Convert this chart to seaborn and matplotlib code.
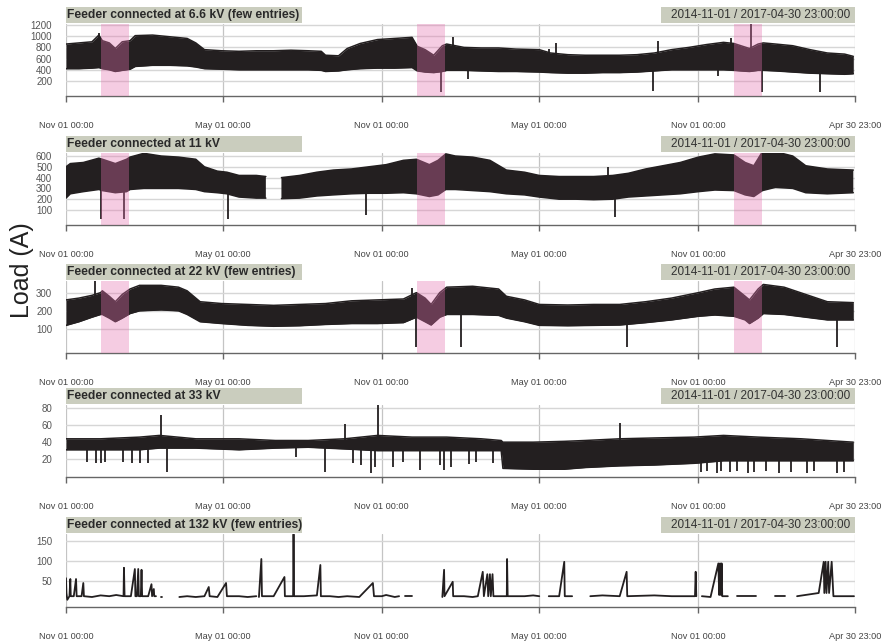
import numpy as np
import pandas as pd
import matplotlib
matplotlib.use("Agg")
import matplotlib.pyplot as plt
from matplotlib.patches import Rectangle
import seaborn as sns

# ---------------- data (days since 2014-11-01, values in A) ----------------
START = "2014-11-01"
END = "2017-04-30 23:00"

titles = ["Feeder connected at 6.6 kV (few entries)",
          "Feeder connected at 11 kV",
          "Feeder connected at 22 kV (few entries)",
          "Feeder connected at 33 kV",
          "Feeder connected at 132 kV (few entries)"]
range_label = "2014-11-01 / 2017-04-30 23:00:00"

xtick_dates = ["2014-11-01", "2015-05-01", "2015-11-01", "2016-05-01", "2016-11-01", "2017-04-30 23:00"]
xtick_labels = ["Nov 01 00:00", "May 01 00:00", "Nov 01 00:00", "May 01 00:00", "Nov 01 00:00", "Apr 30 23:00"]

holiday_start = ["2014-12-12", "2015-12-12", "2016-12-12"]
holiday_end = ["2015-01-13", "2016-01-13", "2017-01-14"]

# 6.6 kV envelope
kv66_days = [0, 15, 30, 38, 42, 50, 57, 65, 74, 80, 100, 120, 140, 150, 160, 180, 200, 220, 240, 260,
             280, 295, 300, 315, 325, 340, 360, 380, 400, 406, 415, 425, 435, 440, 460, 480, 500, 520,
             547, 560, 580, 600, 620, 640, 660, 680, 700, 720, 740, 760, 772, 780, 790, 800, 806, 820,
             840, 860, 880, 900, 910]
kv66_high = [860, 880, 900, 1020, 920, 880, 780, 900, 920, 1010, 1020, 990, 960, 880, 760, 740, 730, 740,
             740, 750, 740, 730, 660, 650, 780, 870, 940, 960, 980, 820, 760, 660, 830, 860, 800, 790, 790,
             770, 760, 700, 670, 660, 660, 660, 670, 700, 760, 800, 850, 890, 870, 830, 780, 860, 880, 860,
             830, 760, 700, 680, 640]
kv66_low = [420, 420, 430, 440, 420, 400, 370, 390, 410, 460, 480, 480, 470, 450, 420, 410, 400, 400, 400,
            400, 400, 390, 370, 380, 400, 420, 430, 430, 440, 380, 360, 350, 370, 390, 390, 380, 370, 370,
            360, 350, 340, 340, 350, 350, 360, 380, 400, 400, 400, 400, 390, 380, 370, 390, 390, 380, 360,
            340, 330, 320, 330]
kv66_spike_days = [38, 434, 447, 465, 558, 566, 679, 684, 754, 769, 792, 805, 871]
kv66_spike_vals = [1050, 10, 990, 230, 780, 870, 20, 920, 290, 960, 1218, 0, 10]

# 11 kV envelope (NaN = missing data)
kv11_days = [0, 5, 20, 38, 42, 57, 70, 74, 90, 110, 130, 150, 160, 175, 186, 200, 220, 231, 240, 249,
             270, 290, 309, 330, 350, 370, 390, 405, 420, 430, 439, 450, 470, 490, 509, 530, 547, 570,
             590, 610, 632, 650, 670, 690, 710, 731, 750, 772, 785, 795, 805, 820, 840, 855, 880, 910]
kv11_high = [500, 530, 540, 580, 570, 530, 570, 590, 625, 600, 590, 570, 500, 460, 450, 420, 420, 410,
             np.nan, 400, 420, 450, 470, 480, 500, 520, 560, 570, 520, 560, 620, 600, 590, 560, 470, 450,
             420, 410, 410, 410, 420, 440, 480, 510, 540, 590, 620, 610, 540, 510, 640, 640, 600, 510,
             480, 470]
kv11_low = [210, 250, 270, 290, 280, 260, 270, 290, 300, 300, 300, 290, 270, 260, 250, 220, 210, 210,
            np.nan, 205, 210, 230, 240, 250, 255, 255, 260, 250, 225, 240, 290, 290, 280, 270, 250, 240,
            220, 200, 200, 195, 200, 220, 230, 240, 250, 270, 285, 280, 240, 225, 280, 310, 300, 260,
            250, 260]
kv11_spike_days = [41, 67, 187, 347, 626, 634]
kv11_spike_vals = [14, 14, 14, 54, 500, 32]

# 22 kV envelope
kv22_days = [0, 15, 30, 40, 42, 50, 57, 65, 74, 85, 110, 130, 140, 155, 180, 210, 240, 270, 300, 330,
             360, 390, 405, 415, 422, 432, 440, 470, 500, 509, 530, 547, 580, 610, 640, 670, 700, 731,
             750, 772, 785, 790, 800, 806, 830, 855, 880, 910]
kv22_high = [260, 270, 285, 300, 310, 280, 250, 290, 320, 340, 340, 330, 310, 250, 240, 235, 230, 235,
             240, 255, 260, 265, 300, 270, 235, 300, 330, 335, 320, 280, 260, 235, 232, 235, 235, 250,
             270, 300, 320, 330, 280, 260, 320, 345, 330, 290, 250, 245]
kv22_low = [120, 140, 165, 180, 180, 160, 140, 160, 185, 200, 205, 200, 180, 140, 130, 120, 115, 118,
            125, 130, 130, 135, 165, 140, 122, 165, 180, 180, 175, 160, 140, 120, 118, 120, 122, 135,
            150, 170, 177, 170, 150, 130, 160, 185, 180, 165, 150, 150]
kv22_spike_days = [33, 400, 405, 457, 649, 891]
kv22_spike_vals = [375, 324, 0, 3, 3, 3]

# 33 kV envelope
kv33_days = [0, 40, 85, 108, 150, 200, 242, 280, 322, 360, 400, 440, 480, 503, 505, 540, 576, 600, 640,
             680, 726, 760, 800, 850, 910]
kv33_high = [44, 44, 46, 48, 44, 44, 42, 42, 44, 48, 46, 46, 44, 42, 40, 40, 41, 42, 44, 45, 46, 48, 46,
             44, 40]
kv33_low = [31, 31, 31, 33, 33, 31, 33, 34, 32, 30, 30, 30, 30, 30, 9, 8, 8, 10, 12, 13, 15, 18, 18, 18,
            18]
kv33_spike_days = [24, 35, 41, 45, 66, 76, 85, 95, 117, 266, 299, 332, 341, 353, 357, 378, 389, 409, 432,
                   437, 445, 466, 474, 493, 734, 741, 753, 757, 768, 776, 788, 795, 809, 824, 838, 857,
                   865, 891, 899, 110, 322, 361, 640]
kv33_spike_vals = [17, 15, 15, 17, 17, 15, 15, 15, 5, 23, 5, 15, 13, 3, 11, 11, 17, 7, 13, 7, 11, 14,
                   17, 15, 5, 6, 4, 6, 5, 6, 4, 5, 6, 4, 5, 4, 6, 4, 5, 72, 61, 84, 63]

# 132 kV sparse series: segments of (day, value)
kv132_segments = [
    ([0, 0.5, 1.5, 4, 5, 5.5, 9, 11.6, 12.3, 18, 20, 20.7, 30, 40, 50, 58, 66.5, 67, 67.7, 75, 79.6, 80.2,
      82, 83.5, 84.2, 86.5, 87.3, 88, 95, 98.8, 99.5, 101.5, 102, 104],
     [57, 20, 3, 12, 55, 12, 12, 55, 12, 12, 45, 12, 10, 14, 12, 15, 12, 83, 12, 12, 80, 12, 12, 80, 12,
      12, 78, 12, 12, 42, 12, 30, 12, 12]),
    ([109.5, 111], [10, 10]),
    ([131, 140, 150, 160, 165, 166, 175, 185, 186, 200, 210, 220],
     [10, 12, 10, 12, 35, 12, 10, 45, 12, 12, 10, 12]),
    ([223, 225.8, 226.5, 240, 252.5, 253, 262.5, 263, 263.6, 275, 290, 294, 294.6, 305, 315, 325, 339,
      354.7, 356, 365, 370, 380, 385],
     [10, 105, 12, 12, 60, 12, 12, 167, 12, 12, 14, 90, 12, 12, 10, 12, 10, 45, 12, 12, 15, 10, 12]),
    ([392, 400], [12, 12]),
    ([435, 437, 437.5, 447, 447.5, 460, 470, 476, 481.7, 483, 487, 488, 490, 491, 493, 494, 509.5, 509.8,
      510.5, 530, 540, 547],
     [10, 78, 12, 48, 12, 12, 10, 12, 73, 12, 67, 12, 67, 12, 67, 12, 12, 105, 12, 12, 14, 12]),
    ([558, 570, 575.9, 576.5, 585], [12, 12, 98, 12, 12]),
    ([606, 620, 640, 648, 648.7, 680, 700, 727, 727.8, 728.5],
     [12, 14, 12, 73, 12, 14, 12, 12, 73, 12]),
    ([735, 745, 754, 755, 756, 757, 757.8, 758.5, 765], [12, 10, 94, 15, 94, 15, 94, 12, 12]),
    ([775, 790, 797], [12, 12, 12]),
    ([820, 831], [12, 12]),
    ([845, 870, 875.8, 876.5, 878, 879, 881, 882, 885, 887, 900, 910.8],
     [12, 20, 98, 20, 98, 20, 98, 20, 98, 12, 12, 12]),
]

yticks = [[200, 400, 600, 800, 1000, 1200], [100, 200, 300, 400, 500, 600], [100, 200, 300],
          [20, 40, 60, 80], [50, 100, 150]]
ylims = [(-68, 1218), (-39, 628), (-32, 364), (-1.2, 84), (-15, 167.5)]

# ---------------- styling / layout ----------------
sns.set_style("white")
plt.rcParams["font.family"] = ["Liberation Sans", "DejaVu Sans"]

LINE = "#231F20"
PINK = (228 / 255, 114 / 255, 175 / 255)
BOX = "#CACDBE"
W, H = 883, 641
X0, X1 = 66, 855
tops = [24, 153, 281, 405, 534]
heights = [72, 72, 72, 72, 73]

t0 = pd.Timestamp(START)


def to_dates(days):
    return t0 + pd.to_timedelta(np.asarray(days, dtype=float), unit="D")


fig = plt.figure(figsize=(W / 100, H / 100), dpi=100)


def draw_band(ax, days, high, low, sdays, svals):
    days = np.asarray(days, float)
    high = np.asarray(high, float)
    low = np.asarray(low, float)
    d = to_dates(days)
    ax.fill_between(d, low, high, color=LINE, lw=0, zorder=2)
    df = pd.DataFrame({"date": d, "high": high, "low": low})
    df["seg"] = df["high"].isna().cumsum()
    df = df.dropna()
    for col in ["high", "low"]:
        sns.lineplot(data=df, x="date", y=col, units="seg", estimator=None, sort=False,
                     color=LINE, lw=1.1, ax=ax, zorder=3)
    ok = ~np.isnan(high)
    mid = np.interp(sdays, days[ok], ((high + low) / 2)[ok])
    ax.vlines(to_dates(sdays), mid, svals, color=LINE, lw=1.3, zorder=3)


bands = [
    (kv66_days, kv66_high, kv66_low, kv66_spike_days, kv66_spike_vals),
    (kv11_days, kv11_high, kv11_low, kv11_spike_days, kv11_spike_vals),
    (kv22_days, kv22_high, kv22_low, kv22_spike_days, kv22_spike_vals),
    (kv33_days, kv33_high, kv33_low, kv33_spike_days, kv33_spike_vals),
]

for i in range(5):
    top, h = tops[i], heights[i]
    ax = fig.add_axes([X0 / W, 1 - (top + h) / H, (X1 - X0) / W, h / H])
    if i < 4:
        draw_band(ax, *bands[i])
    else:
        rows = []
        for k, (dd, vv) in enumerate(kv132_segments):
            for a, b in zip(dd, vv):
                rows.append((k, a, b))
        df5 = pd.DataFrame(rows, columns=["seg", "day", "val"])
        df5["date"] = to_dates(df5["day"].values)
        sns.lineplot(data=df5, x="date", y="val", units="seg", estimator=None, sort=False,
                     color=LINE, lw=1.3, ax=ax, zorder=3)
    if i < 3:
        for s, e in zip(holiday_start, holiday_end):
            ax.axvspan(pd.Timestamp(s), pd.Timestamp(e), color=PINK, alpha=0.36, lw=0, zorder=4)

    ax.set_xlim(t0, pd.Timestamp(END))
    ax.set_ylim(*ylims[i])
    ax.set_yticks(yticks[i])
    ax.set_xticks([pd.Timestamp(t) for t in xtick_dates])
    ax.set_xticklabels(xtick_labels)
    ax.set_xlabel("")
    ax.set_ylabel("")
    ax.grid(axis="y", color="#D6D6D6", lw=1.0, zorder=0)
    ax.grid(axis="x", color="#C4C4C4", lw=0.9, zorder=0)
    ax.set_axisbelow(True)
    for sp in ["top", "right", "left"]:
        ax.spines[sp].set_visible(False)
    ax.spines["bottom"].set_color("#666666")
    ax.spines["bottom"].set_linewidth(1.0)
    ax.tick_params(axis="x", bottom=True, length=4, width=1, color="#666666", pad=14,
                   labelsize=6.6, labelcolor="#444444")
    ax.tick_params(axis="y", left=False, length=0, pad=9.9, labelsize=7, labelcolor="#555555")

    # title boxes
    ybox = 1 - (top - 1) / H
    hbox = 16 / H
    fig.patches.append(Rectangle((X0 / W, ybox), (302 - X0) / W, hbox, transform=fig.transFigure,
                                 facecolor=BOX, edgecolor="none", zorder=1))
    fig.patches.append(Rectangle((661 / W, ybox), (X1 - 661) / W, hbox, transform=fig.transFigure,
                                 facecolor=BOX, edgecolor="none", zorder=1))
    fig.text((X0 + 1) / W, ybox + hbox / 2, titles[i], ha="left", va="center", fontsize=8.7,
             fontweight="bold", color="#2A2A2A", zorder=2)
    fig.text((X1 - 5) / W, ybox + hbox / 2, range_label, ha="right", va="center", fontsize=8.5,
             color="#333333", zorder=2)

fig.text(22 / W, 1 - 270 / H, "Load (A)", rotation=90, ha="center", va="center", fontsize=18,
         color="#222222")

fig.savefig("out.png", dpi=100)
